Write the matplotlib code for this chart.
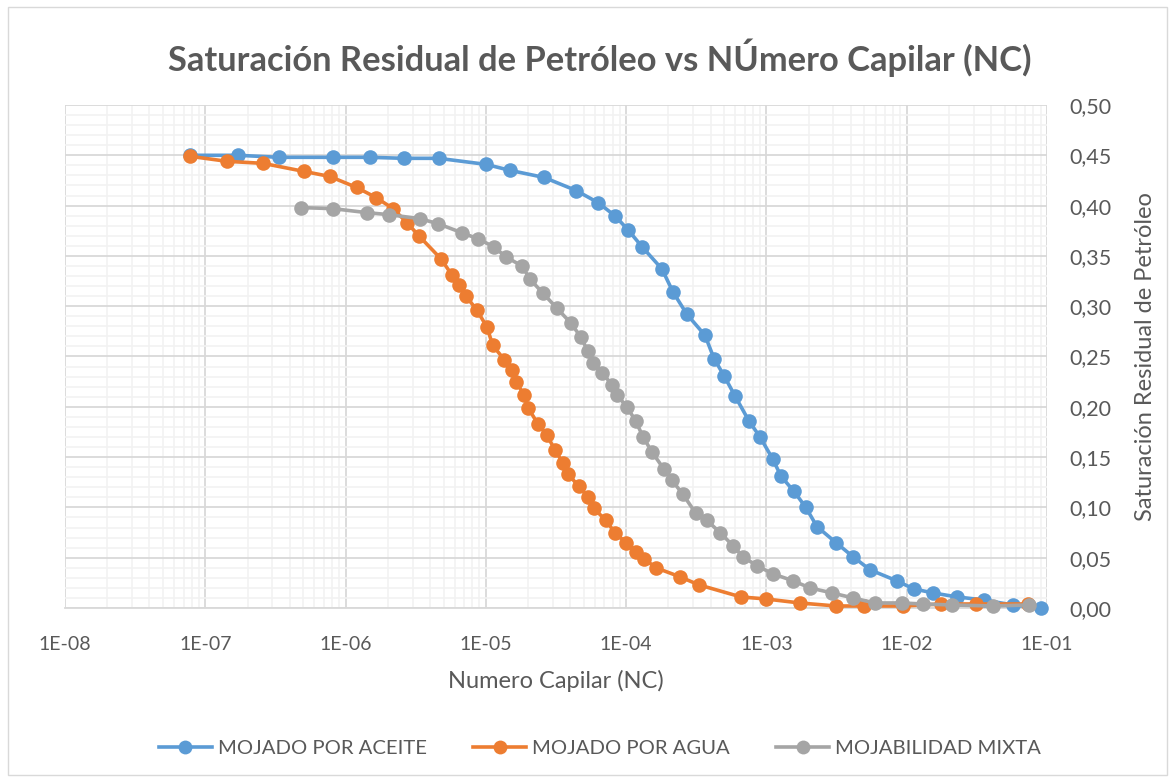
import matplotlib
matplotlib.use("Agg")
import matplotlib.pyplot as plt
from matplotlib.ticker import FixedLocator, LogLocator, NullFormatter, FuncFormatter, MultipleLocator
from matplotlib.patches import Rectangle

plt.rcParams['font.family'] = ['Lato', 'DejaVu Sans']

# Capillary number (NC) and residual oil saturation for each wettability case
nc_aceite = [7.8e-8, 1.71e-7, 3.35e-7, 8.1e-7, 1.49e-6, 2.6e-6, 4.6e-6, 1.0e-5, 1.49e-5,
             2.6e-5, 4.4e-5, 6.3e-5, 8.3e-5, 1.03e-4, 1.30e-4, 1.80e-4, 2.16e-4, 2.71e-4,
             3.65e-4, 4.23e-4, 4.98e-4, 5.96e-4, 7.5e-4, 9.0e-4, 1.11e-3, 1.27e-3, 1.57e-3,
             1.91e-3, 2.29e-3, 3.13e-3, 4.14e-3, 5.47e-3, 8.5e-3, 1.12e-2, 1.54e-2, 2.28e-2,
             3.55e-2, 5.7e-2, 9.1e-2]
sor_aceite = [0.450, 0.450, 0.448, 0.448, 0.448, 0.447, 0.447, 0.441, 0.435,
              0.428, 0.415, 0.403, 0.390, 0.376, 0.359, 0.337, 0.314, 0.292,
              0.271, 0.248, 0.231, 0.211, 0.186, 0.170, 0.148, 0.131, 0.116,
              0.100, 0.081, 0.065, 0.051, 0.038, 0.027, 0.019, 0.015, 0.011,
              0.008, 0.003, 0.000]

nc_agua = [7.8e-8, 1.43e-7, 2.58e-7, 5.05e-7, 7.7e-7, 1.20e-6, 1.65e-6, 2.18e-6, 2.74e-6,
           3.33e-6, 4.79e-6, 5.73e-6, 6.42e-6, 7.21e-6, 8.65e-6, 1.02e-5, 1.12e-5, 1.35e-5,
           1.53e-5, 1.64e-5, 1.87e-5, 2.0e-5, 2.35e-5, 2.72e-5, 3.11e-5, 3.55e-5, 3.85e-5,
           4.61e-5, 5.35e-5, 5.89e-5, 7.18e-5, 8.3e-5, 9.98e-5, 1.17e-4, 1.34e-4, 1.63e-4,
           2.42e-4, 3.30e-4, 6.58e-4, 9.9e-4, 1.73e-3, 3.13e-3, 5.0e-3, 9.4e-3, 1.75e-2,
           3.11e-2, 7.3e-2]
sor_agua = [0.449, 0.444, 0.442, 0.434, 0.429, 0.418, 0.408, 0.397, 0.383,
            0.370, 0.347, 0.331, 0.321, 0.310, 0.296, 0.279, 0.261, 0.247,
            0.237, 0.225, 0.212, 0.199, 0.183, 0.172, 0.157, 0.144, 0.133,
            0.121, 0.110, 0.099, 0.087, 0.075, 0.065, 0.056, 0.049, 0.040,
            0.031, 0.023, 0.011, 0.009, 0.005, 0.002, 0.002, 0.002, 0.004,
            0.004, 0.004]

nc_mixta = [4.81e-7, 8.1e-7, 1.42e-6, 2.04e-6, 3.39e-6, 4.56e-6, 6.76e-6, 8.79e-6, 1.14e-5,
            1.39e-5, 1.81e-5, 2.06e-5, 2.55e-5, 3.21e-5, 4.05e-5, 4.77e-5, 5.35e-5, 5.79e-5,
            6.71e-5, 7.93e-5, 8.59e-5, 1.01e-4, 1.17e-4, 1.32e-4, 1.53e-4, 1.86e-4, 2.12e-4,
            2.54e-4, 3.14e-4, 3.77e-4, 4.67e-4, 5.77e-4, 6.79e-4, 8.55e-4, 1.11e-3, 1.55e-3,
            2.04e-3, 2.93e-3, 4.14e-3, 5.93e-3, 9.2e-3, 1.30e-2, 2.10e-2, 4.11e-2, 7.4e-2]
sor_mixta = [0.398, 0.397, 0.393, 0.391, 0.387, 0.382, 0.373, 0.367, 0.359,
             0.349, 0.340, 0.327, 0.313, 0.298, 0.283, 0.269, 0.255, 0.244,
             0.234, 0.222, 0.212, 0.200, 0.186, 0.170, 0.155, 0.138, 0.127,
             0.113, 0.094, 0.087, 0.075, 0.062, 0.051, 0.042, 0.034, 0.027,
             0.020, 0.015, 0.010, 0.005, 0.005, 0.004, 0.003, 0.002, 0.003]

series_labels = ["MOJADO POR ACEITE", "MOJADO POR AGUA", "MOJABILIDAD MIXTA"]
series_colors = ["#5B9BD5", "#ED7D31", "#A5A5A5"]
x_ticks = [1e-8, 1e-7, 1e-6, 1e-5, 1e-4, 1e-3, 1e-2, 1e-1]
x_tick_labels = ["1E-08", "1E-07", "1E-06", "1E-05", "1E-04", "1E-03", "1E-02", "1E-01"]

TEXT = "#595959"

fig = plt.figure(figsize=(11.75, 7.82), dpi=100)
ax = fig.add_axes([65 / 1175, 1 - 608 / 782, (1047 - 65) / 1175, (608 - 105) / 782])

# chart area border
fig.patches.append(Rectangle((8 / 1175, 7 / 782), (1167 - 8) / 1175, (775 - 7) / 782,
                             transform=fig.transFigure, fill=False,
                             edgecolor="#D9D9D9", linewidth=1.0))

for xs, ys, lab, col in zip([nc_aceite, nc_agua, nc_mixta],
                            [sor_aceite, sor_agua, sor_mixta],
                            series_labels, series_colors):
    ax.plot(xs, ys, color=col, linewidth=2.6, marker="o", markersize=10.5,
            markeredgewidth=0, label=lab, zorder=3, clip_on=False)

ax.set_xscale("log")
ax.set_xlim(1e-8, 1e-1)
ax.set_ylim(0, 0.5)

ax.xaxis.set_major_locator(FixedLocator(x_ticks))
ax.set_xticklabels(x_tick_labels)
ax.xaxis.set_minor_locator(LogLocator(base=10, subs=range(2, 10), numticks=20))
ax.xaxis.set_minor_formatter(NullFormatter())

ax.yaxis.set_major_locator(MultipleLocator(0.05))
ax.yaxis.set_minor_locator(MultipleLocator(0.01))
ax.yaxis.set_major_formatter(FuncFormatter(lambda v, p: f"{v:.2f}".replace(".", ",")))
ax.yaxis.tick_right()
ax.yaxis.set_label_position("right")

ax.grid(which="major", color="#D9D9D9", linewidth=1.3, zorder=0)
ax.grid(which="minor", color="#F2F2F2", linewidth=1.2, zorder=0)
ax.set_axisbelow(True)

for side in ["top", "left", "right"]:
    ax.spines[side].set_visible(False)
ax.spines["bottom"].set_color("#D9D9D9")
ax.spines["bottom"].set_linewidth(1.3)

ax.tick_params(which="both", length=0)
ax.tick_params(axis="x", labelsize=14, labelcolor=TEXT, pad=20)
ax.tick_params(axis="y", labelsize=15.5, labelcolor=TEXT, pad=16)

ax.set_xlabel("Numero Capilar (NC)", fontsize=17, color=TEXT, labelpad=12)
ax.set_ylabel("Saturación Residual de Petróleo", fontsize=17, color=TEXT, labelpad=17)

fig.text(600 / 1175, 1 - 58 / 782, "Saturación Residual de Petróleo vs NÚmero Capilar (NC)",
         ha="center", va="center", fontsize=24.8, fontweight="bold", color=TEXT)

fig.legend(loc="center", bbox_to_anchor=(600 / 1175, 1 - 748 / 782), ncol=3,
           frameon=False, fontsize=14.6, labelcolor=TEXT, handlelength=2.6,
           columnspacing=2.3, handletextpad=0.3, markerscale=0.95)

fig.savefig("out.png", dpi=100)
